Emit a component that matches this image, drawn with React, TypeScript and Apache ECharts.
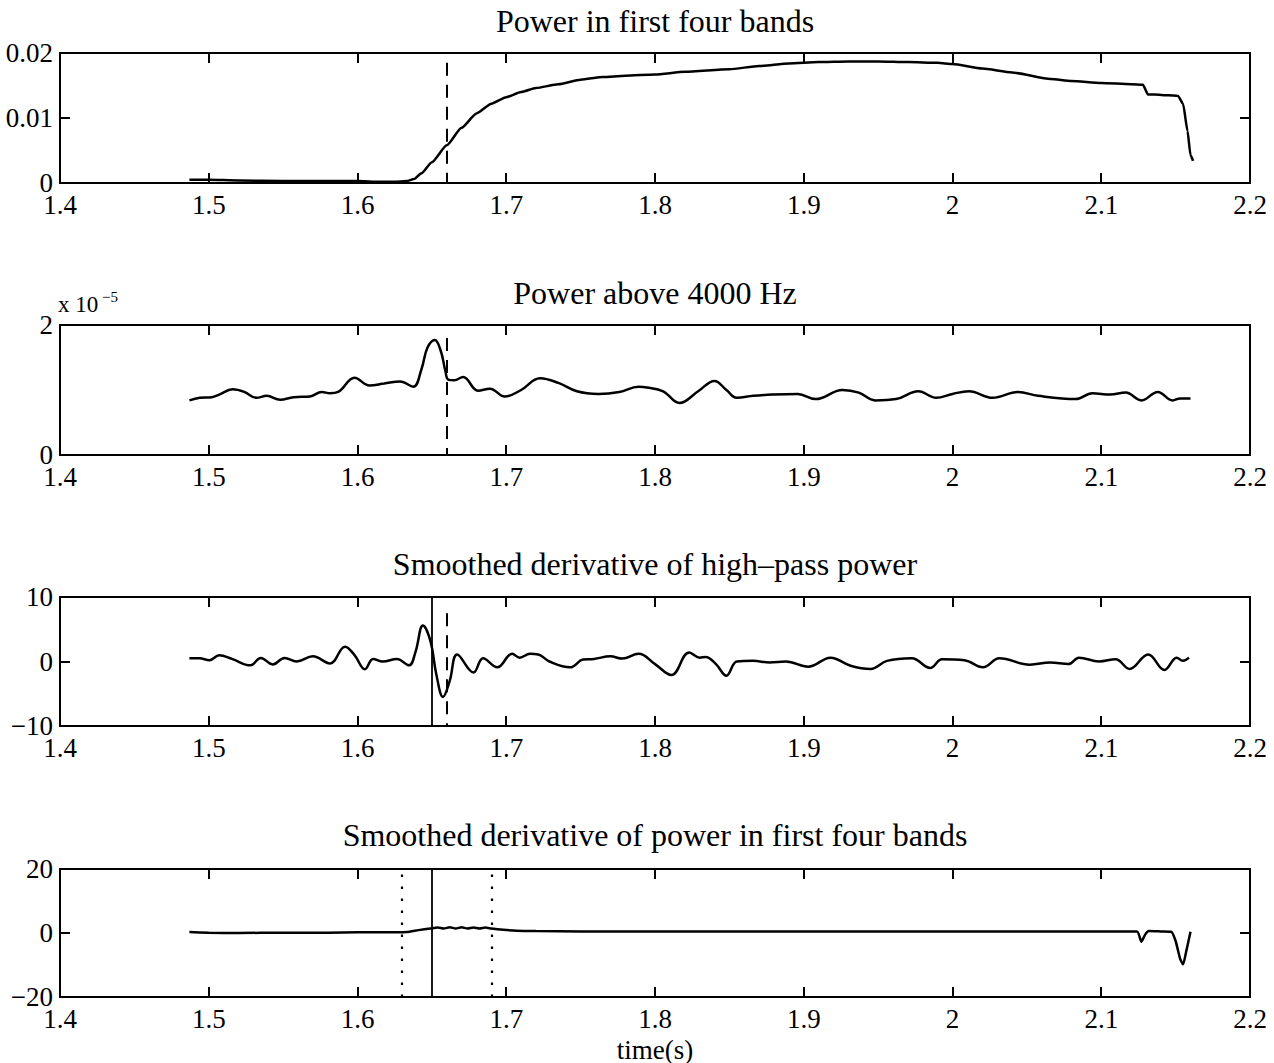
import React, { useEffect, useRef } from "react";
import * as echarts from "echarts";

const titles = [
  "Power in first four bands",
  "Power above 4000 Hz",
  "Smoothed derivative of high\u2013pass power",
  "Smoothed derivative of power in first four bands",
];
const xTickMin = 1.4;
const xTickMax = 2.2;
const xTickStep = 0.1;

// Panel 1: power in first four bands
const t1 = [1.487, 1.5, 1.52, 1.55, 1.58, 1.6, 1.615, 1.625, 1.633, 1.638, 1.643, 1.65, 1.66, 1.67, 1.68, 1.69, 1.7, 1.71, 1.72, 1.735, 1.75, 1.765, 1.78, 1.8, 1.82, 1.85, 1.87, 1.89, 1.91, 1.93, 1.95, 1.97, 1.99, 2.0, 2.02, 2.04, 2.066, 2.08, 2.1, 2.12, 2.128, 2.1315, 2.136, 2.145, 2.1516, 2.155, 2.158, 2.16, 2.1617];
const v1 = [0.0005, 0.0005, 0.0004, 0.0003, 0.0003, 0.0003, 0.0002, 0.0002, 0.0003, 0.0006, 0.0015, 0.0032, 0.0058, 0.0085, 0.0107, 0.0122, 0.0132, 0.014, 0.0146, 0.0152, 0.0159, 0.0163, 0.0165, 0.0167, 0.0171, 0.0175, 0.018, 0.0184, 0.0186, 0.0187, 0.0187, 0.0186, 0.0185, 0.0183, 0.0176, 0.017, 0.016, 0.0157, 0.0154, 0.0152, 0.0151, 0.0136, 0.0136, 0.0135, 0.0134, 0.0122, 0.008, 0.0043, 0.0034];

// Panel 2: power above 4000 Hz (x 1e-5)
const t2 = [1.487, 1.494, 1.502, 1.507, 1.516, 1.524, 1.532, 1.539, 1.548, 1.557, 1.568, 1.576, 1.5815, 1.587, 1.598, 1.608, 1.618, 1.6286, 1.6375, 1.643, 1.647, 1.652, 1.656, 1.659, 1.661, 1.665, 1.671, 1.681, 1.689, 1.699, 1.71, 1.7227, 1.735, 1.7475, 1.762, 1.776, 1.789, 1.7945, 1.8055, 1.8164, 1.829, 1.84, 1.848, 1.855, 1.866, 1.879, 1.896, 1.908, 1.926, 1.937, 1.948, 1.962, 1.977, 1.989, 2.0, 2.011, 2.027, 2.044, 2.0575, 2.083, 2.094, 2.106, 2.1164, 2.127, 2.138, 2.148, 2.153, 2.16];
const v2 = [0.84, 0.88, 0.89, 0.93, 1.01, 0.97, 0.88, 0.91, 0.85, 0.89, 0.9, 0.97, 0.95, 0.97, 1.19, 1.07, 1.1, 1.13, 1.05, 1.32, 1.65, 1.77, 1.6, 1.3, 1.16, 1.15, 1.2, 0.99, 1.02, 0.9, 1.0, 1.18, 1.11, 0.98, 0.94, 0.97, 1.05, 1.04, 0.98, 0.8, 0.98, 1.14, 1.0, 0.88, 0.91, 0.93, 0.94, 0.86, 1.0, 0.96, 0.84, 0.86, 0.98, 0.88, 0.94, 0.98, 0.88, 0.97, 0.91, 0.86, 0.95, 0.93, 0.96, 0.84, 0.97, 0.84, 0.87, 0.87];

// Panel 3: smoothed derivative of high-pass power
const t3 = [1.487, 1.4937, 1.5005, 1.507, 1.5156, 1.528, 1.535, 1.543, 1.551, 1.559, 1.57, 1.5815, 1.5916, 1.598, 1.605, 1.6105, 1.617, 1.6265, 1.6346, 1.639, 1.644, 1.649, 1.653, 1.6575, 1.662, 1.667, 1.678, 1.6844, 1.694, 1.704, 1.709, 1.716, 1.7215, 1.729, 1.743, 1.7516, 1.759, 1.77, 1.778, 1.789, 1.8, 1.811, 1.823, 1.83, 1.834, 1.841, 1.848, 1.855, 1.866, 1.877, 1.888, 1.903, 1.918, 1.9315, 1.945, 1.956, 1.9726, 1.985, 1.993, 2.008, 2.0205, 2.0315, 2.052, 2.0657, 2.078, 2.085, 2.0986, 2.1096, 2.119, 2.1315, 2.1425, 2.1507, 2.1548, 2.159];
const v3 = [0.5, 0.5, 0.2, 0.95, 0.4, -0.6, 0.55, -0.45, 0.55, 0.0, 0.8, -0.3, 2.3, 1.0, -1.2, 0.4, 0.0, 0.4, -0.6, 1.5, 5.6, 3.2, -2.0, -5.5, -3.0, 1.1, -1.7, 0.5, -0.9, 1.2, 0.6, 1.2, 1.1, 0.0, -0.9, 0.3, 0.4, 0.8, 0.45, 1.2, -0.4, -2.1, 1.4, 0.6, 0.7, -0.4, -2.2, 0.0, 0.1, -0.15, 0.0, -0.8, 0.6, -0.65, -1.15, 0.1, 0.5, -1.0, 0.35, 0.2, -0.9, 0.5, -0.5, -0.15, -0.4, 0.6, 0.0, 0.35, -1.15, 1.1, -1.3, 0.6, 0.1, 0.6];

// Panel 4: smoothed derivative of power in first four bands
const t4 = [1.487, 1.5, 1.52, 1.55, 1.58, 1.6, 1.62, 1.633, 1.641, 1.649, 1.654, 1.658, 1.662, 1.666, 1.67, 1.674, 1.678, 1.682, 1.686, 1.69, 1.698, 1.707, 1.72, 1.75, 1.8, 1.9, 2.0, 2.1, 2.124, 2.127, 2.1295, 2.132, 2.14, 2.147, 2.15, 2.153, 2.155, 2.157, 2.16];
const v4 = [0.3, 0.1, 0.0, 0.1, 0.1, 0.2, 0.2, 0.3, 0.9, 1.4, 1.7, 1.4, 1.8, 1.4, 1.8, 1.4, 1.7, 1.4, 1.7, 1.4, 1.0, 0.7, 0.6, 0.5, 0.5, 0.5, 0.5, 0.5, 0.5, -2.7, -0.5, 0.6, 0.5, 0.4, -2.5, -8.0, -9.8, -6.0, 0.4];

const yMins = [0, 0, -10, -20];
const yMaxs = [0.02, 2, 10, 20];
const yIntervals = [0.01, 2, 10, 20];

const FONT = "'Liberation Serif', 'Times New Roman', serif";
const gridTops = [53, 325, 597, 869];
const gridHeights = [130, 130, 129, 128];
const titleTops = [5, 277, 548, 819];

export default function App() {
  const ref = useRef<HTMLDivElement>(null);
  useEffect(() => {
    if (!ref.current) return;
    const chart = echarts.init(ref.current, null, { renderer: "svg" });
    const ts = [t1, t2, t3, t4];
    const vs = [v1, v2, v3, v4];

    const grids: any[] = [];
    const xAxes: any[] = [];
    const yAxes: any[] = [];
    const series: any[] = [];
    const titleArr: any[] = [];

    const xFmt = (v: number) => String(Math.round(v * 10) / 10);
    const yFmt = (v: number) => String(+v.toPrecision(6)).replace("-", "\u2212");

    for (let i = 0; i < 4; i++) {
      grids.push({
        left: 60,
        width: 1190,
        top: gridTops[i],
        height: gridHeights[i],
        show: true,
        borderColor: "#000",
        borderWidth: 2,
        backgroundColor: "transparent",
      });
      titleArr.push({
        text: titles[i],
        left: 655,
        top: titleTops[i],
        textAlign: "center",
        padding: 0,
        textStyle: { fontFamily: FONT, fontSize: 32, fontWeight: "normal", color: "#000" },
      });
      const baseX = {
        type: "value",
        gridIndex: i,
        min: xTickMin,
        max: xTickMax,
        interval: xTickStep,
        splitLine: { show: false },
        axisLine: { show: false, onZero: false },
        axisTick: { show: true, inside: true, length: 10, lineStyle: { color: "#000", width: 2 } },
      };
      xAxes.push({
        ...baseX,
        position: "bottom",
        axisLabel: { show: true, margin: 9, lineHeight: 26, formatter: xFmt, fontFamily: FONT, fontSize: 27, color: "#000" },
      });
      xAxes.push({ ...baseX, position: "top", axisLabel: { show: false } });
      const baseY = {
        type: "value",
        gridIndex: i,
        min: yMins[i],
        max: yMaxs[i],
        interval: yIntervals[i],
        splitLine: { show: false },
        axisLine: { show: false, onZero: false },
        axisTick: { show: true, inside: true, length: 10, lineStyle: { color: "#000", width: 2 } },
      };
      yAxes.push({
        ...baseY,
        position: "left",
        axisLabel: { show: true, margin: 7, lineHeight: 18, formatter: yFmt, fontFamily: FONT, fontSize: 27, color: "#000" },
      });
      yAxes.push({ ...baseY, position: "right", axisLabel: { show: false } });

      const data = ts[i].map((t, k) => [t, vs[i][k]]);
      const dash = { type: [13, 9], width: 2 };
      let markData: any[] = [];
      if (i === 0) {
        markData = [[{ coord: [1.66, 0.0185], lineStyle: dash }, { coord: [1.66, 0] }]];
      } else if (i === 1) {
        markData = [[{ coord: [1.66, 1.8], lineStyle: dash }, { coord: [1.66, 0] }]];
      } else if (i === 2) {
        markData = [
          [{ coord: [1.66, 7.5], lineStyle: dash }, { coord: [1.66, -10] }],
          { xAxis: 1.65, lineStyle: { type: "solid", width: 1.8 } },
        ];
      } else {
        markData = [
          { xAxis: 1.63, lineStyle: { type: [2.5, 9.5], width: 2.2 } },
          { xAxis: 1.69, lineStyle: { type: [2.5, 9.5], width: 2.2 } },
          { xAxis: 1.65, lineStyle: { type: "solid", width: 1.8 } },
        ];
      }
      series.push({
        type: "line",
        xAxisIndex: 2 * i,
        yAxisIndex: 2 * i,
        data,
        showSymbol: false,
        symbol: "none",
        smooth: i === 0 || i === 3 ? 0.2 : 0.4,
        smoothMonotone: i === 0 ? "x" : undefined,
        lineStyle: { color: "#000", width: 2.5 },
        markLine: {
          silent: true,
          symbol: ["none", "none"],
          label: { show: false },
          lineStyle: { color: "#000" },
          data: markData,
        },
      });
    }

    chart.setOption({
      animation: false,
      backgroundColor: "#fff",
      title: titleArr,
      grid: grids,
      xAxis: xAxes,
      yAxis: yAxes,
      series,
      graphic: [
        {
          type: "text",
          x: 58,
          y: 293,
          style: { text: "x 10", font: `23px ${FONT}`, fill: "#000" },
        },
        {
          type: "text",
          x: 102,
          y: 289,
          style: { text: "\u22125", font: `15px ${FONT}`, fill: "#000" },
        },
        {
          type: "text",
          x: 655,
          y: 1036,
          style: { text: "time(s)", font: `27px ${FONT}`, fill: "#000", textAlign: "center", align: "center" },
        },
      ],
    });
    return () => chart.dispose();
  }, []);
  return (
    <div
      ref={ref}
      style={{ position: "absolute", left: 0, top: 0, width: 1274, height: 1063, background: "#fff" }}
    />
  );
}
